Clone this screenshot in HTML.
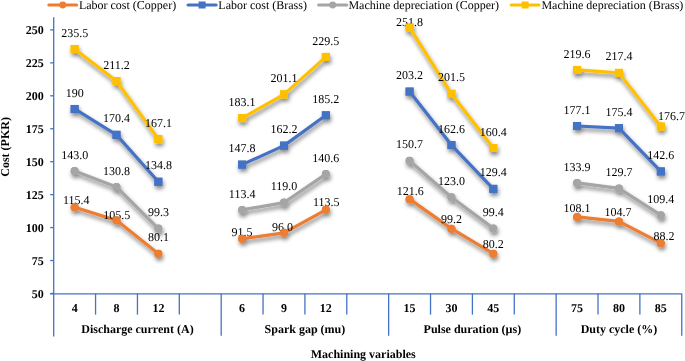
<!DOCTYPE html>
<html><head><meta charset="utf-8"><style>
html,body{margin:0;padding:0;background:#fff;}
body{width:685px;height:361px;overflow:hidden;}
svg{display:block;will-change:transform;text-rendering:geometricPrecision;font-family:"Liberation Serif",serif;}
.b{font-weight:bold;font-size:12px;fill:#000;}
.l{font-size:12px;fill:#000;}
</style></head><body>
<svg width="685" height="361" viewBox="0 0 685 361">
<defs>
<filter id="sh" x="-20%" y="-20%" width="140%" height="140%">
<feGaussianBlur in="SourceAlpha" stdDeviation="2"/>
<feOffset dx="0.7" dy="3" result="o"/>
<feComponentTransfer><feFuncA type="linear" slope="0.5"/></feComponentTransfer>
<feMerge><feMergeNode/><feMergeNode in="SourceGraphic"/></feMerge>
</filter>
</defs>

<g stroke="#4472C4" stroke-width="1.3" fill="none">
<line x1="53.7" y1="17.2" x2="53.7" y2="336.5"/>
<line x1="50.2" y1="293.50" x2="53.7" y2="293.50"/>
<line x1="50.2" y1="260.55" x2="53.7" y2="260.55"/>
<line x1="50.2" y1="227.60" x2="53.7" y2="227.60"/>
<line x1="50.2" y1="194.65" x2="53.7" y2="194.65"/>
<line x1="50.2" y1="161.70" x2="53.7" y2="161.70"/>
<line x1="50.2" y1="128.75" x2="53.7" y2="128.75"/>
<line x1="50.2" y1="95.80" x2="53.7" y2="95.80"/>
<line x1="50.2" y1="62.85" x2="53.7" y2="62.85"/>
<line x1="50.2" y1="29.90" x2="53.7" y2="29.90"/>
<line x1="50.2" y1="293.8" x2="681.75" y2="293.8"/>
<line x1="95.57" y1="293.5" x2="95.57" y2="314.6"/>
<line x1="137.44" y1="293.5" x2="137.44" y2="314.6"/>
<line x1="179.31" y1="293.5" x2="179.31" y2="314.6"/>
<line x1="221.18" y1="293.5" x2="221.18" y2="335.7"/>
<line x1="263.05" y1="293.5" x2="263.05" y2="314.6"/>
<line x1="304.92" y1="293.5" x2="304.92" y2="314.6"/>
<line x1="346.79" y1="293.5" x2="346.79" y2="314.6"/>
<line x1="388.66" y1="293.5" x2="388.66" y2="335.7"/>
<line x1="430.53" y1="293.5" x2="430.53" y2="314.6"/>
<line x1="472.40" y1="293.5" x2="472.40" y2="314.6"/>
<line x1="514.27" y1="293.5" x2="514.27" y2="314.6"/>
<line x1="556.14" y1="293.5" x2="556.14" y2="335.7"/>
<line x1="598.01" y1="293.5" x2="598.01" y2="314.6"/>
<line x1="639.88" y1="293.5" x2="639.88" y2="314.6"/>
<line x1="681.75" y1="293.5" x2="681.75" y2="335.7"/>
</g>
<text class="b" x="43.7" y="297.70" text-anchor="end">50</text>
<text class="b" x="43.7" y="264.75" text-anchor="end">75</text>
<text class="b" x="43.7" y="231.80" text-anchor="end">100</text>
<text class="b" x="43.7" y="198.85" text-anchor="end">125</text>
<text class="b" x="43.7" y="165.90" text-anchor="end">150</text>
<text class="b" x="43.7" y="132.95" text-anchor="end">175</text>
<text class="b" x="43.7" y="100.00" text-anchor="end">200</text>
<text class="b" x="43.7" y="67.05" text-anchor="end">225</text>
<text class="b" x="43.7" y="34.10" text-anchor="end">250</text>
<text class="b" x="74.64" y="311.8" text-anchor="middle">4</text>
<text class="b" x="116.50" y="311.8" text-anchor="middle">8</text>
<text class="b" x="158.38" y="311.8" text-anchor="middle">12</text>
<text class="b" x="242.12" y="311.8" text-anchor="middle">6</text>
<text class="b" x="283.99" y="311.8" text-anchor="middle">9</text>
<text class="b" x="325.85" y="311.8" text-anchor="middle">12</text>
<text class="b" x="409.59" y="311.8" text-anchor="middle">15</text>
<text class="b" x="451.46" y="311.8" text-anchor="middle">30</text>
<text class="b" x="493.33" y="311.8" text-anchor="middle">45</text>
<text class="b" x="577.08" y="311.8" text-anchor="middle">75</text>
<text class="b" x="618.95" y="311.8" text-anchor="middle">80</text>
<text class="b" x="660.82" y="311.8" text-anchor="middle">85</text>
<text class="b" x="137.44" y="333.4" text-anchor="middle">Discharge current (A)</text>
<text class="b" x="304.92" y="333.4" text-anchor="middle">Spark gap (mu)</text>
<text class="b" x="472.40" y="333.4" text-anchor="middle">Pulse duration (µs)</text>
<text class="b" x="618.95" y="333.4" text-anchor="middle">Duty cycle (%)</text>
<text class="b" x="363.3" y="357.8" text-anchor="middle">Machining variables</text>
<text class="b" transform="translate(8.8,146.9) rotate(-90)" text-anchor="middle">Cost (PKR)</text>
<g filter="url(#sh)">
<polyline points="74.64,207.30 116.50,220.35 158.38,253.83" fill="none" stroke="#ED7D31" stroke-width="3.2" stroke-linejoin="round" stroke-linecap="round"/>
<circle cx="74.64" cy="207.30" r="4" fill="#ED7D31"/>
<circle cx="116.50" cy="220.35" r="4" fill="#ED7D31"/>
<circle cx="158.38" cy="253.83" r="4" fill="#ED7D31"/>
<polyline points="242.12,238.80 283.99,232.87 325.85,209.81" fill="none" stroke="#ED7D31" stroke-width="3.2" stroke-linejoin="round" stroke-linecap="round"/>
<circle cx="242.12" cy="238.80" r="4" fill="#ED7D31"/>
<circle cx="283.99" cy="232.87" r="4" fill="#ED7D31"/>
<circle cx="325.85" cy="209.81" r="4" fill="#ED7D31"/>
<polyline points="409.59,199.13 451.46,228.65 493.33,253.70" fill="none" stroke="#ED7D31" stroke-width="3.2" stroke-linejoin="round" stroke-linecap="round"/>
<circle cx="409.59" cy="199.13" r="4" fill="#ED7D31"/>
<circle cx="451.46" cy="228.65" r="4" fill="#ED7D31"/>
<circle cx="493.33" cy="253.70" r="4" fill="#ED7D31"/>
<polyline points="577.08,216.92 618.95,221.41 660.82,243.15" fill="none" stroke="#ED7D31" stroke-width="3.2" stroke-linejoin="round" stroke-linecap="round"/>
<circle cx="577.08" cy="216.92" r="4" fill="#ED7D31"/>
<circle cx="618.95" cy="221.41" r="4" fill="#ED7D31"/>
<circle cx="660.82" cy="243.15" r="4" fill="#ED7D31"/>
</g>
<g filter="url(#sh)">
<polyline points="74.64,108.98 116.50,134.81 158.38,181.73" fill="none" stroke="#4472C4" stroke-width="3.2" stroke-linejoin="round" stroke-linecap="round"/>
<rect x="70.64" y="104.98" width="8" height="8" fill="#4472C4"/>
<rect x="112.50" y="130.81" width="8" height="8" fill="#4472C4"/>
<rect x="154.38" y="177.73" width="8" height="8" fill="#4472C4"/>
<polyline points="242.12,164.60 283.99,145.62 325.85,115.31" fill="none" stroke="#4472C4" stroke-width="3.2" stroke-linejoin="round" stroke-linecap="round"/>
<rect x="238.12" y="160.60" width="8" height="8" fill="#4472C4"/>
<rect x="279.99" y="141.62" width="8" height="8" fill="#4472C4"/>
<rect x="321.85" y="111.31" width="8" height="8" fill="#4472C4"/>
<polyline points="409.59,91.58 451.46,145.09 493.33,188.85" fill="none" stroke="#4472C4" stroke-width="3.2" stroke-linejoin="round" stroke-linecap="round"/>
<rect x="405.59" y="87.58" width="8" height="8" fill="#4472C4"/>
<rect x="447.46" y="141.09" width="8" height="8" fill="#4472C4"/>
<rect x="489.33" y="184.85" width="8" height="8" fill="#4472C4"/>
<polyline points="577.08,125.98 618.95,128.22 660.82,171.45" fill="none" stroke="#4472C4" stroke-width="3.2" stroke-linejoin="round" stroke-linecap="round"/>
<rect x="573.08" y="121.98" width="8" height="8" fill="#4472C4"/>
<rect x="614.95" y="124.22" width="8" height="8" fill="#4472C4"/>
<rect x="656.82" y="167.45" width="8" height="8" fill="#4472C4"/>
</g>
<g filter="url(#sh)">
<polyline points="74.64,170.93 116.50,187.01 158.38,228.52" fill="none" stroke="#A5A5A5" stroke-width="3.2" stroke-linejoin="round" stroke-linecap="round"/>
<circle cx="74.64" cy="170.93" r="4" fill="#A5A5A5"/>
<circle cx="116.50" cy="187.01" r="4" fill="#A5A5A5"/>
<circle cx="158.38" cy="228.52" r="4" fill="#A5A5A5"/>
<polyline points="242.12,209.94 283.99,202.56 325.85,174.09" fill="none" stroke="#A5A5A5" stroke-width="3.2" stroke-linejoin="round" stroke-linecap="round"/>
<circle cx="242.12" cy="209.94" r="4" fill="#A5A5A5"/>
<circle cx="283.99" cy="202.56" r="4" fill="#A5A5A5"/>
<circle cx="325.85" cy="174.09" r="4" fill="#A5A5A5"/>
<polyline points="409.59,160.78 451.46,197.29 493.33,228.39" fill="none" stroke="#A5A5A5" stroke-width="3.2" stroke-linejoin="round" stroke-linecap="round"/>
<circle cx="409.59" cy="160.78" r="4" fill="#A5A5A5"/>
<circle cx="451.46" cy="197.29" r="4" fill="#A5A5A5"/>
<circle cx="493.33" cy="228.39" r="4" fill="#A5A5A5"/>
<polyline points="577.08,182.92 618.95,188.46 660.82,215.21" fill="none" stroke="#A5A5A5" stroke-width="3.2" stroke-linejoin="round" stroke-linecap="round"/>
<circle cx="577.08" cy="182.92" r="4" fill="#A5A5A5"/>
<circle cx="618.95" cy="188.46" r="4" fill="#A5A5A5"/>
<circle cx="660.82" cy="215.21" r="4" fill="#A5A5A5"/>
</g>
<g filter="url(#sh)">
<polyline points="74.64,49.01 116.50,81.04 158.38,139.16" fill="none" stroke="#FFC000" stroke-width="3.2" stroke-linejoin="round" stroke-linecap="round"/>
<rect x="70.64" y="45.01" width="8" height="8" fill="#FFC000"/>
<rect x="112.50" y="77.04" width="8" height="8" fill="#FFC000"/>
<rect x="154.38" y="135.16" width="8" height="8" fill="#FFC000"/>
<polyline points="242.12,118.07 283.99,94.35 325.85,56.92" fill="none" stroke="#FFC000" stroke-width="3.2" stroke-linejoin="round" stroke-linecap="round"/>
<rect x="238.12" y="114.07" width="8" height="8" fill="#FFC000"/>
<rect x="279.99" y="90.35" width="8" height="8" fill="#FFC000"/>
<rect x="321.85" y="52.92" width="8" height="8" fill="#FFC000"/>
<polyline points="409.59,27.53 451.46,93.82 493.33,147.99" fill="none" stroke="#FFC000" stroke-width="3.2" stroke-linejoin="round" stroke-linecap="round"/>
<rect x="405.59" y="23.53" width="8" height="8" fill="#FFC000"/>
<rect x="447.46" y="89.82" width="8" height="8" fill="#FFC000"/>
<rect x="489.33" y="143.99" width="8" height="8" fill="#FFC000"/>
<polyline points="577.08,69.97 618.95,72.87 660.82,126.51" fill="none" stroke="#FFC000" stroke-width="3.2" stroke-linejoin="round" stroke-linecap="round"/>
<rect x="573.08" y="65.97" width="8" height="8" fill="#FFC000"/>
<rect x="614.95" y="68.87" width="8" height="8" fill="#FFC000"/>
<rect x="656.82" y="122.51" width="8" height="8" fill="#FFC000"/>
</g>
<text class="l" x="76.34" y="203.70" text-anchor="middle">115.4</text>
<text class="l" x="116.80" y="219.45" text-anchor="middle">105.5</text>
<text class="l" x="158.38" y="241.13" text-anchor="middle">80.1</text>
<text class="l" x="242.12" y="236.20" text-anchor="middle">91.5</text>
<text class="l" x="282.49" y="230.67" text-anchor="middle">96.0</text>
<text class="l" x="326.35" y="205.61" text-anchor="middle">113.5</text>
<text class="l" x="410.19" y="195.23" text-anchor="middle">121.6</text>
<text class="l" x="451.46" y="223.15" text-anchor="middle">99.2</text>
<text class="l" x="493.33" y="248.20" text-anchor="middle">80.2</text>
<text class="l" x="577.08" y="211.52" text-anchor="middle">108.1</text>
<text class="l" x="617.95" y="216.11" text-anchor="middle">104.7</text>
<text class="l" x="663.92" y="239.55" text-anchor="middle">88.2</text>
<text class="l" x="74.64" y="96.58" text-anchor="middle">190</text>
<text class="l" x="116.50" y="122.41" text-anchor="middle">170.4</text>
<text class="l" x="158.38" y="169.33" text-anchor="middle">134.8</text>
<text class="l" x="242.12" y="152.20" text-anchor="middle">147.8</text>
<text class="l" x="283.99" y="133.22" text-anchor="middle">162.2</text>
<text class="l" x="325.85" y="102.91" text-anchor="middle">185.2</text>
<text class="l" x="409.59" y="79.18" text-anchor="middle">203.2</text>
<text class="l" x="451.46" y="132.69" text-anchor="middle">162.6</text>
<text class="l" x="493.33" y="176.45" text-anchor="middle">129.4</text>
<text class="l" x="577.08" y="113.58" text-anchor="middle">177.1</text>
<text class="l" x="618.95" y="115.82" text-anchor="middle">175.4</text>
<text class="l" x="660.82" y="159.05" text-anchor="middle">142.6</text>
<text class="l" x="74.64" y="158.53" text-anchor="middle">143.0</text>
<text class="l" x="116.50" y="174.61" text-anchor="middle">130.8</text>
<text class="l" x="158.38" y="216.12" text-anchor="middle">99.3</text>
<text class="l" x="242.12" y="197.54" text-anchor="middle">113.4</text>
<text class="l" x="283.99" y="190.16" text-anchor="middle">119.0</text>
<text class="l" x="325.85" y="161.69" text-anchor="middle">140.6</text>
<text class="l" x="409.59" y="148.38" text-anchor="middle">150.7</text>
<text class="l" x="451.46" y="184.89" text-anchor="middle">123.0</text>
<text class="l" x="493.33" y="215.99" text-anchor="middle">99.4</text>
<text class="l" x="577.08" y="170.52" text-anchor="middle">133.9</text>
<text class="l" x="618.95" y="176.06" text-anchor="middle">129.7</text>
<text class="l" x="660.82" y="202.81" text-anchor="middle">109.4</text>
<text class="l" x="74.64" y="36.61" text-anchor="middle">235.5</text>
<text class="l" x="116.50" y="68.64" text-anchor="middle">211.2</text>
<text class="l" x="158.38" y="126.76" text-anchor="middle">167.1</text>
<text class="l" x="242.12" y="105.67" text-anchor="middle">183.1</text>
<text class="l" x="283.99" y="81.95" text-anchor="middle">201.1</text>
<text class="l" x="325.85" y="44.52" text-anchor="middle">229.5</text>
<text class="l" x="409.39" y="25.63" text-anchor="middle">251.8</text>
<text class="l" x="451.46" y="81.42" text-anchor="middle">201.5</text>
<text class="l" x="493.33" y="135.59" text-anchor="middle">160.4</text>
<text class="l" x="577.08" y="57.57" text-anchor="middle">219.6</text>
<text class="l" x="618.95" y="60.47" text-anchor="middle">217.4</text>
<text class="l" x="671.52" y="120.01" text-anchor="middle">176.7</text>
<circle cx="74.64" cy="207.30" r="4" fill="#ED7D31"/>
<circle cx="116.50" cy="220.35" r="4" fill="#ED7D31"/>
<circle cx="158.38" cy="253.83" r="4" fill="#ED7D31"/>
<circle cx="242.12" cy="238.80" r="4" fill="#ED7D31"/>
<circle cx="283.99" cy="232.87" r="4" fill="#ED7D31"/>
<circle cx="325.85" cy="209.81" r="4" fill="#ED7D31"/>
<circle cx="409.59" cy="199.13" r="4" fill="#ED7D31"/>
<circle cx="451.46" cy="228.65" r="4" fill="#ED7D31"/>
<circle cx="493.33" cy="253.70" r="4" fill="#ED7D31"/>
<circle cx="577.08" cy="216.92" r="4" fill="#ED7D31"/>
<circle cx="618.95" cy="221.41" r="4" fill="#ED7D31"/>
<circle cx="660.82" cy="243.15" r="4" fill="#ED7D31"/>
<rect x="70.64" y="104.98" width="8" height="8" fill="#4472C4"/>
<rect x="112.50" y="130.81" width="8" height="8" fill="#4472C4"/>
<rect x="154.38" y="177.73" width="8" height="8" fill="#4472C4"/>
<rect x="238.12" y="160.60" width="8" height="8" fill="#4472C4"/>
<rect x="279.99" y="141.62" width="8" height="8" fill="#4472C4"/>
<rect x="321.85" y="111.31" width="8" height="8" fill="#4472C4"/>
<rect x="405.59" y="87.58" width="8" height="8" fill="#4472C4"/>
<rect x="447.46" y="141.09" width="8" height="8" fill="#4472C4"/>
<rect x="489.33" y="184.85" width="8" height="8" fill="#4472C4"/>
<rect x="573.08" y="121.98" width="8" height="8" fill="#4472C4"/>
<rect x="614.95" y="124.22" width="8" height="8" fill="#4472C4"/>
<rect x="656.82" y="167.45" width="8" height="8" fill="#4472C4"/>
<circle cx="74.64" cy="170.93" r="4" fill="#A5A5A5"/>
<circle cx="116.50" cy="187.01" r="4" fill="#A5A5A5"/>
<circle cx="158.38" cy="228.52" r="4" fill="#A5A5A5"/>
<circle cx="242.12" cy="209.94" r="4" fill="#A5A5A5"/>
<circle cx="283.99" cy="202.56" r="4" fill="#A5A5A5"/>
<circle cx="325.85" cy="174.09" r="4" fill="#A5A5A5"/>
<circle cx="409.59" cy="160.78" r="4" fill="#A5A5A5"/>
<circle cx="451.46" cy="197.29" r="4" fill="#A5A5A5"/>
<circle cx="493.33" cy="228.39" r="4" fill="#A5A5A5"/>
<circle cx="577.08" cy="182.92" r="4" fill="#A5A5A5"/>
<circle cx="618.95" cy="188.46" r="4" fill="#A5A5A5"/>
<circle cx="660.82" cy="215.21" r="4" fill="#A5A5A5"/>
<rect x="70.64" y="45.01" width="8" height="8" fill="#FFC000"/>
<rect x="112.50" y="77.04" width="8" height="8" fill="#FFC000"/>
<rect x="154.38" y="135.16" width="8" height="8" fill="#FFC000"/>
<rect x="238.12" y="114.07" width="8" height="8" fill="#FFC000"/>
<rect x="279.99" y="90.35" width="8" height="8" fill="#FFC000"/>
<rect x="321.85" y="52.92" width="8" height="8" fill="#FFC000"/>
<rect x="405.59" y="23.53" width="8" height="8" fill="#FFC000"/>
<rect x="447.46" y="89.82" width="8" height="8" fill="#FFC000"/>
<rect x="489.33" y="143.99" width="8" height="8" fill="#FFC000"/>
<rect x="573.08" y="65.97" width="8" height="8" fill="#FFC000"/>
<rect x="614.95" y="68.87" width="8" height="8" fill="#FFC000"/>
<rect x="656.82" y="122.51" width="8" height="8" fill="#FFC000"/>
<g><line x1="48.9" y1="5" x2="76.6" y2="5" stroke="#ED7D31" stroke-width="3.2" stroke-linecap="round"/>
<circle cx="62.75" cy="5" r="3.4" fill="#ED7D31"/></g>
<text class="l" x="78.9" y="8.8">Labor cost (Copper)</text>
<g><line x1="188.1" y1="5" x2="216.1" y2="5" stroke="#4472C4" stroke-width="3.2" stroke-linecap="round"/>
<rect x="198.60" y="1.5" width="7" height="7" fill="#4472C4"/></g>
<text class="l" x="218.3" y="8.8">Labor cost (Brass)</text>
<g><line x1="318.7" y1="5" x2="346.7" y2="5" stroke="#A5A5A5" stroke-width="3.2" stroke-linecap="round"/>
<circle cx="332.70" cy="5" r="3.4" fill="#A5A5A5"/></g>
<text class="l" x="348.4" y="8.8">Machine depreciation (Copper)</text>
<g><line x1="511.2" y1="5" x2="539.0" y2="5" stroke="#FFC000" stroke-width="3.2" stroke-linecap="round"/>
<rect x="521.60" y="1.5" width="7" height="7" fill="#FFC000"/></g>
<text class="l" x="541.4" y="8.8">Machine depreciation (Brass)</text>
</svg></body></html>
